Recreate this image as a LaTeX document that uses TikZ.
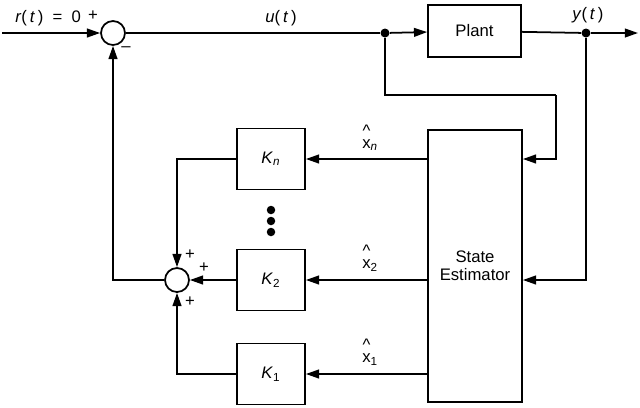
\documentclass[tikz,border=0pt]{standalone}
\usepackage{fontspec}
\setmainfont{Liberation Sans}
\usetikzlibrary{arrows.meta}

\newcommand{\xhat}{\shortstack{\^{}\\[-0.2ex]x}}

\begin{document}
\begin{tikzpicture}[x=0.02cm, y=-0.02cm,
    font=\fontsize{9.5}{10}\selectfont,
    block/.style={draw, line width=1pt, rectangle, inner sep=0pt},
    sumnode/.style={circle, draw, line width=1pt, fill=white, minimum size=0.48cm, inner sep=0pt},
    arr/.style={line width=1pt, -{Triangle[length=7.5pt, width=5pt]}},
    line/.style={line width=1pt},
    dot/.style={circle, fill=black, minimum size=0.18cm, inner sep=0pt}]
        \useasboundingbox (0,0) rectangle (640,407);

        % Draw nodes
        \node[sumnode] (sum1) at (113,33) {};
        \node[block, minimum width=1.86cm, minimum height=1.04cm] (plant) at (474.5,31) {Plant};
        \node[block, minimum width=1.88cm, minimum height=5.44cm, align=center] (se) at (475,266) {State\\Estimator};
        \node[block, minimum width=1.36cm, minimum height=1.22cm] (kn) at (271,159) {\textit{K}\textsubscript{\textit{n}}};
        \node[block, minimum width=1.36cm, minimum height=1.22cm] (k2) at (271,280) {\textit{K}\textsubscript{2}};
        \node[block, minimum width=1.36cm, minimum height=1.22cm] (k1) at (271,374) {\textit{K}\textsubscript{1}};
        \node[sumnode] (sum2) at (177,280) {};
        \node[dot] (split) at (385,33) {};
        \node[dot] (ydot) at (586,33) {};
        \coordinate (in) at (2,33);
        \coordinate (out) at (638,33);
        \coordinate (bend) at (556,95);

        % Draw connections
        \draw[arr] (in) -- (sum1) node[pos=0.47, above] {\textit{r}(\,\textit{t}\,)~~=~~0};
        \draw[line] (sum1) -- (split) node[pos=0.61, above] {\textit{u}(\,\textit{t}\,)};
        \draw[arr] (split) -- (plant);
        \draw[line] (plant) -- (ydot);
        \draw[arr] (ydot) -- (out);
        \draw[line] (split) |- (bend);
        \draw[arr] (bend) |- (se.east |- kn);
        \draw[arr] (ydot) |- (se.east |- k2);
        \draw[arr] (se.west |- kn) -- (kn) node[pos=0.47, above=1pt] {\xhat\textsubscript{\textit{n}}};
        \draw[arr] (se.west |- k2) -- (k2) node[pos=0.47, above=1pt] {\xhat\textsubscript{2}};
        \draw[arr] (se.west |- k1) -- (k1) node[pos=0.47, above=1pt] {\xhat\textsubscript{1}};
        \draw[arr] (kn) -| (sum2);
        \draw[arr] (k2) -- (sum2);
        \draw[arr] (k1) -| (sum2);
        \draw[arr] (sum2) -| (sum1);

        % Labels
        \node (ylab) at (588,15) {\textit{y}(\,\textit{t}\,)};
        \node (p1) at (93,16) {+};
        \node (m1) at (126,49) {--};
        \node (p2) at (190,255) {+};
        \node (p3) at (204,268) {+};
        \node (p4) at (190,302) {+};
        \foreach \i/\yy in {1/210, 2/221, 3/232}
            \node[dot, minimum size=0.17cm] (vd\i) at (271,\yy) {};
    \end{tikzpicture}
\end{document}
